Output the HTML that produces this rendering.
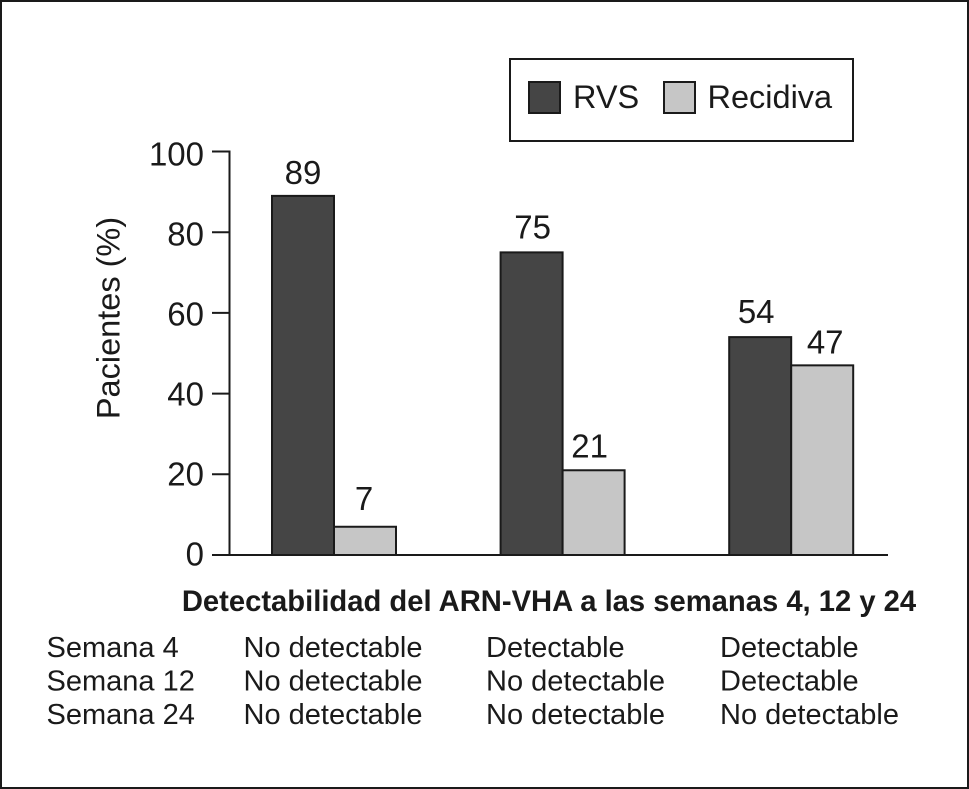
<!DOCTYPE html>
<html>
<head>
<meta charset="utf-8">
<style>
html,body{margin:0;padding:0;background:#fff}
svg{display:block;font-family:"Liberation Sans",sans-serif;fill:#1a1a1a}
</style>
</head>
<body>
<svg id="chart" width="969" height="789" viewBox="0 0 969 789" xmlns="http://www.w3.org/2000/svg">
<rect x="1" y="1" width="967" height="787" fill="#fff" stroke="#1a1a1a" stroke-width="2"/>
<g>
<rect x="510" y="59" width="343" height="82" fill="#fff" stroke="#1a1a1a" stroke-width="2"/>
<rect x="529" y="82" width="31" height="31" fill="#454545" stroke="#1a1a1a" stroke-width="2"/>
<text x="573" y="108" font-size="32.5">RVS</text>
<rect x="664" y="82" width="31" height="31" fill="#c6c6c6" stroke="#1a1a1a" stroke-width="2"/>
<text x="707.5" y="108" font-size="32.5">Recidiva</text>
</g>
<text transform="translate(119.5,318) rotate(-90)" text-anchor="middle" font-size="32.5">Pacientes (%)</text>
<g id="axes"></g>
<g id="bars"></g>
<text x="549" y="611" text-anchor="middle" font-size="29.2" font-weight="bold">Detectabilidad del ARN-VHA a las semanas 4, 12 y 24</text>
<g id="table" font-size="29"></g>
</svg>
<script>
const groups = ["A", "B", "C"];
const rvsValues = [89, 75, 54];
const recidivaValues = [7, 21, 47];
const yTicks = [0, 20, 40, 60, 80, 100];
const rowLabels = ["Semana 4", "Semana 12", "Semana 24"];
const column1 = ["No detectable", "No detectable", "No detectable"];
const column2 = ["Detectable", "No detectable", "No detectable"];
const column3 = ["Detectable", "Detectable", "No detectable"];

const NS = "http://www.w3.org/2000/svg";
const y0 = 555, yTop = 151.5;
const yScale = v => y0 - (v / 100) * (y0 - yTop);
const tickLabelY = v => 565.7 - v * 4;
const groupX = i => 272 + i * 228.6;
const barW = 62;
const rvsLabelNudge = [[0, 0], [1, -2], [-4, -2]];
const recidivaLabelNudge = [[-1, -5], [-4, -1], [3, 0]];

function make(tag, attrs, parent, text) {
  const el = document.createElementNS(NS, tag);
  for (const k in attrs) el.setAttribute(k, attrs[k]);
  if (text !== undefined) el.textContent = text;
  parent.appendChild(el);
  return el;
}

const axes = document.getElementById("axes");
const yAxisLine = make("line", {x1: 229.5, y1: yScale(100) - 1, x2: 229.5, y2: y0 + 1, stroke: "#1a1a1a", "stroke-width": 2}, axes);


const xAxisLine = make("line", {x1: 229, y1: y0, x2: 888, y2: y0, stroke: "#1a1a1a", "stroke-width": 2}, axes);



yTicks.forEach(t => {
  const tick = make("line", {x1: 212, y1: yScale(t), x2: 230, y2: yScale(t), stroke: "#1a1a1a", "stroke-width": 2}, axes);
  
  
  const label = make("text", {x: 204, y: tickLabelY(t), "text-anchor": "end", "font-size": 33}, axes, t);
  
  
});

const bars = document.getElementById("bars");
groups.forEach((g, i) => {
  const x = groupX(i);
  const r1 = make("rect", {x: x, y: yScale(rvsValues[i]), width: barW, height: y0 - yScale(rvsValues[i]), fill: "#454545", stroke: "#1a1a1a", "stroke-width": 2}, bars);
  
  
  const l1 = make("text", {x: x + barW / 2 + rvsLabelNudge[i][0], y: yScale(rvsValues[i]) - 12 + rvsLabelNudge[i][1], "text-anchor": "middle", "font-size": 33}, bars, rvsValues[i]);
  
  
  const r2 = make("rect", {x: x + barW, y: yScale(recidivaValues[i]), width: barW, height: y0 - yScale(recidivaValues[i]), fill: "#c6c6c6", stroke: "#1a1a1a", "stroke-width": 2}, bars);
  
  
  const l2 = make("text", {x: x + barW * 1.5 + recidivaLabelNudge[i][0], y: yScale(recidivaValues[i]) - 12 + recidivaLabelNudge[i][1], "text-anchor": "middle", "font-size": 33}, bars, recidivaValues[i]);
  
  
});

const table = document.getElementById("table");
const rowY = [657, 690.5, 724];
const cols = [[46.5, rowLabels], [243.5, column1], [486, column2], [720, column3]];
cols.forEach(c => {
  c[1].forEach((txt, r) => {
    const cell = make("text", {x: c[0], y: rowY[r]}, table, txt);
    
    
  });
});
</script>
</body>
</html>
